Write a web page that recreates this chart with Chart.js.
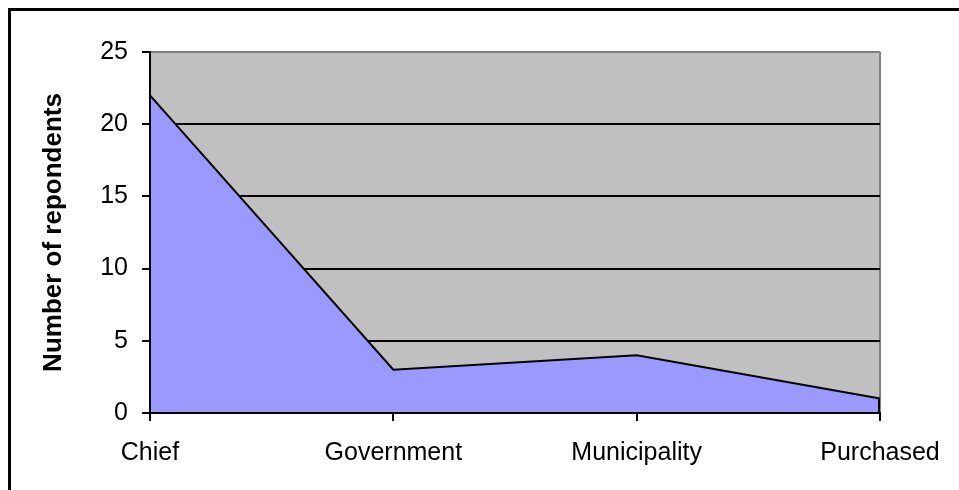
<!DOCTYPE html>
<html>
<head>
<meta charset="utf-8">
<script src="https://cdn.jsdelivr.net/npm/chart.js@4/dist/chart.umd.min.js"></script>
<style>
  html, body { margin: 0; padding: 0; background: #fff; overflow: hidden; }
  #wrap { position: relative; width: 959px; height: 490px; }
  #frame { position: absolute; left: 8px; top: 8px; width: 1000px; height: 1000px; border-left: 3px solid #000; border-top: 3px solid #000; box-sizing: border-box; }
  canvas { position: absolute; left: 0; top: 0; }
</style>
</head>
<body>
<div id="wrap">
  <div id="frame"></div>
  <canvas id="c" width="959" height="490"></canvas>
</div>
<script>
const categories = ['Chief', 'Government', 'Municipality', 'Purchased'];
const respondents = [22, 3, 4, 1];
const yTicks = [0, 5, 10, 15, 20, 25];
const axisTitle = 'Number of repondents';

const plotBg = {
  id: 'plotBg',
  beforeDraw(chart) {
    const a = chart.chartArea, ctx = chart.ctx;
    ctx.save();
    ctx.fillStyle = '#C0C0C0';
    ctx.fillRect(a.left, a.top, a.right - a.left, a.bottom - a.top);
    ctx.restore();
  }
};

// outline the right end of the area polygon, as the original does
const areaEdge = {
  id: 'areaEdge',
  afterDatasetsDraw(chart) {
    const xs = chart.scales.x, ys = chart.scales.y, ctx = chart.ctx;
    const last = respondents.length - 1;
    const x = xs.getPixelForValue(last);
    ctx.save();
    ctx.strokeStyle = '#000';
    ctx.lineWidth = 2;
    ctx.beginPath();
    ctx.moveTo(x - 1, ys.getPixelForValue(respondents[last]));
    ctx.lineTo(x - 1, ys.getPixelForValue(0));
    ctx.stroke();
    ctx.restore();
  }
};

const FONT = "'Liberation Sans', Arial, sans-serif";

new Chart(document.getElementById('c'), {
  type: 'line',
  data: {
    labels: categories,
    datasets: [{
      data: respondents,
      fill: 'origin',
      backgroundColor: '#9999FF',
      borderColor: '#000000',
      borderWidth: 2,
      pointRadius: 0,
      tension: 0
    }]
  },
  options: {
    responsive: false,
    animation: false,
    devicePixelRatio: 1,
    layout: { padding: { left: 0, right: 79, top: 52, bottom: 0 } },
    plugins: { legend: { display: false }, tooltip: { enabled: false } },
    scales: {
      x: {
        offset: false,
        afterFit(s) { s.height = 490 - 413 - 0; },
        grid: {
          color: (c) => (c.index === categories.length - 1 ? '#808080' : 'rgba(0,0,0,0)'),
          lineWidth: 2,
          drawTicks: true,
          tickLength: 8,
          tickColor: '#000'
        },
        border: { display: true, color: '#000', width: 2, z: 1 },
        ticks: {
          color: '#000',
          font: { family: FONT, size: 25 },
          padding: 17,
          maxRotation: 0,
          autoSkip: false
        }
      },
      y: {
        min: 0,
        max: 25,
        afterFit(s) { s.width = 150; },
        afterBuildTicks(s) { s.ticks = yTicks.map(v => ({ value: v })); },
        grid: {
          color: (c) => (c.tick && c.tick.value === 25 ? '#808080' : '#000'),
          lineWidth: 2,
          drawTicks: true,
          tickLength: 8,
          tickColor: '#000'
        },
        border: { display: true, color: '#000', width: 2, z: 1 },
        ticks: {
          color: '#000',
          font: { family: FONT, size: 25 },
          padding: 14,
          stepSize: 5
        },
        title: {
          display: true,
          text: axisTitle,
          color: '#000',
          font: { family: FONT, size: 26, weight: 'bold' },
          padding: { top: 38, bottom: 0 }
        }
      }
    }
  },
  plugins: [plotBg, areaEdge]
});
</script>
</body>
</html>
